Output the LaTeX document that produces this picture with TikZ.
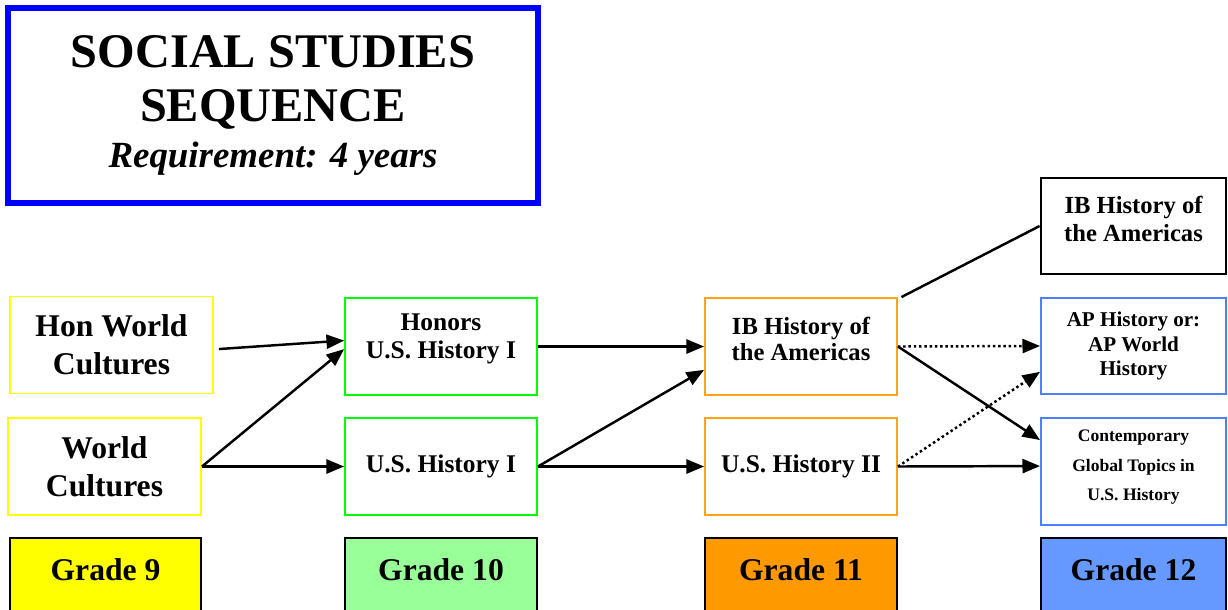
\documentclass[tikz,border=0pt]{standalone}
\usepackage{fontspec}
\setmainfont{Liberation Serif}
\usetikzlibrary{arrows.meta}
\definecolor{ninth}{HTML}{FFFF00}
\definecolor{tenth}{HTML}{00FF00}
\definecolor{eleventh}{HTML}{FFA319}
\definecolor{twelfth}{HTML}{4D80FF}
\definecolor{tenthfill}{HTML}{99FF99}
\definecolor{eleventhfill}{HTML}{FF9900}
\definecolor{twelfthfill}{HTML}{6699FF}
\tikzset{
  titlebox/.style={rectangle, draw=blue, line width=3.4pt, align=center, minimum width=10.6cm, minimum height=3.9cm, font=\fontsize{27.5}{30.6}\selectfont\bfseries},
  course/.style={rectangle, draw, line width=1.1pt, align=center, inner sep=2pt, minimum width=3.84cm, minimum height=1.94cm},
  ninebox/.style={course, draw=ninth, font=\fontsize{18}{21.5}\selectfont\bfseries},
  tenbox/.style={course, draw=tenth, font=\fontsize{14.5}{16}\selectfont\bfseries},
  elevenbox/.style={course, draw=eleventh, font=\fontsize{14}{15}\selectfont\bfseries},
  twelvebox/.style={course, draw=twelfth, minimum width=3.7cm, minimum height=1.92cm},
  gradebox/.style={rectangle, draw=black, line width=0.9pt, minimum width=3.84cm, minimum height=1.64cm, text depth=10.8pt, font=\fontsize{18}{21}\selectfont\bfseries},
  line/.style={-{Triangle[length=10pt,width=8pt]}, line width=1.4pt},
  dotline/.style={line, dash pattern=on 1.4pt off 1.6pt}
}
\begin{document}
\begin{tikzpicture}[x=0.02cm, y=-0.02cm]
  \useasboundingbox (0,0) rectangle (1228,609);
  \node[titlebox] (title) at (273,105.5) {SOCIAL STUDIES\\SEQUENCE\\[-4.6pt]{\fontsize{21}{25}\selectfont\itshape Requirement: 4 years}};
  % grade 9
  \node[ninebox, minimum width=4.06cm] (honwc) at (111.5,345) {Hon World\\Cultures};
  \node[ninebox, minimum width=3.86cm] (wc) at (104.5,466.5) {World\\Cultures};
  % grade 10
  \node[tenbox, text depth=12pt] (honus1) at (441,346.5) {Honors\\U.S. History I};
  \node[tenbox] (us1) at (441,466.5) {U.S. History I};
  % grade 11
  \node[elevenbox, text depth=9pt] (ib11) at (801,346.5) {IB History of\\the Americas};
  \node[elevenbox, font=\fontsize{14.5}{16}\selectfont\bfseries] (us2) at (801,466.5) {U.S. History II};
  % grade 12
  \node[course, draw=black, line width=1.6pt, minimum width=3.7cm, minimum height=1.92cm, text depth=8.5pt, font=\fontsize{14}{16}\selectfont\bfseries] (ib12) at (1133.5,226) {IB History of\\the Americas};
  \node[twelvebox, font=\fontsize{12}{14.2}\selectfont\bfseries] (ap) at (1133.5,346) {AP History or:\\AP World\\History};
  \node[twelvebox, minimum height=2.14cm, text depth=7.2pt, font=\fontsize{10}{17}\selectfont\bfseries] (ctgt) at (1133.5,471.5) {Contemporary\\Global Topics in\\U.S. History};
  % grade labels
  \node[gradebox, fill=ninth, minimum width=3.82cm] (g9) at (105.5,579) {Grade 9};
  \node[gradebox, fill=tenthfill] (g10) at (441,579) {Grade 10};
  \node[gradebox, fill=eleventhfill] (g11) at (801,579) {Grade 11};
  \node[gradebox, fill=twelfthfill, minimum width=3.7cm] (g12) at (1133.5,579) {Grade 12};
  % arrows
  \draw[line] ([xshift=2.8pt,yshift=-2.3pt]honwc.east) -- ([yshift=3.4pt]honus1.west);
  \draw[line] (wc.east) -- ([yshift=-1.5pt]honus1.west);
  \draw[line] (wc.east) -- (us1.west);
  \draw[line] (honus1.east) -- (ib11.west);
  \draw[line] (us1.east) -- ([yshift=-13.3pt]ib11.west);
  \draw[line] (us1.east) -- (us2.west);
  \draw[line width=1.4pt] ([xshift=2pt]ib11.north east) -- (ib12.west);
  \draw[dotline] (ib11.east) -- (ap.west);
  \draw[line] (ib11.east) -- ([yshift=17.9pt]ctgt.west);
  \draw[dotline] (us2.east) -- ([yshift=-14.7pt]ap.west);
  \draw[line] (us2.east) -- ([yshift=3.1pt]ctgt.west);
\end{tikzpicture}
\end{document}
